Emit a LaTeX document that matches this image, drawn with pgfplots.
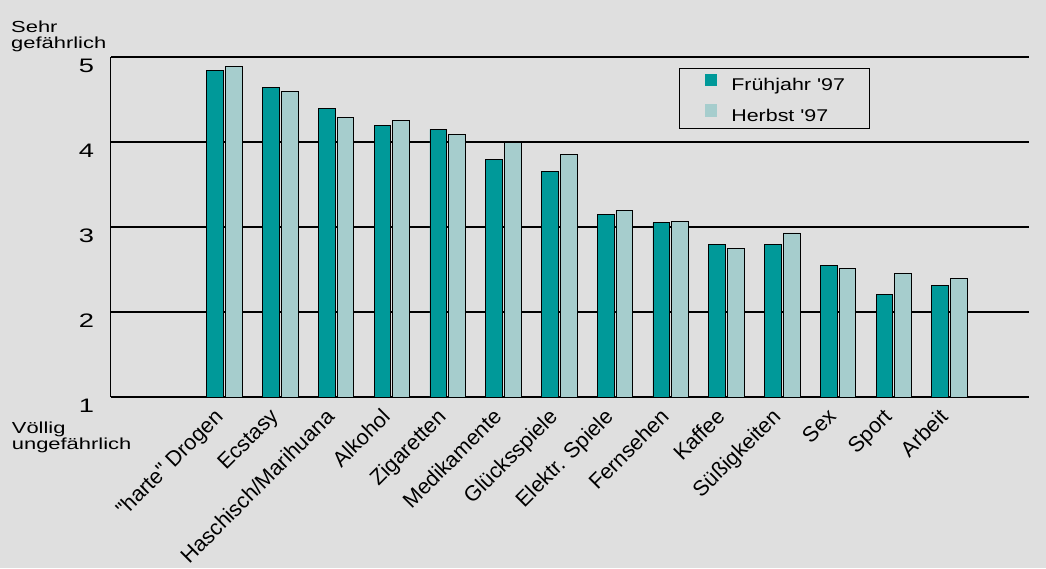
\documentclass[border=0pt]{standalone}
\usepackage{fontspec}
\setmainfont{Liberation Sans}
\usepackage{graphicx}
\usepackage{pgfplots}
\pgfplotsset{compat=1.18}
\definecolor{bg}{HTML}{DFDFDF}
\definecolor{darkteal}{HTML}{009999}
\definecolor{lightteal}{HTML}{A6CDCD}
\newcommand{\sx}[2]{\scalebox{#1}[1]{#2}}
\pgfplotstableread{
x fruehjahr herbst
0 4.84 4.89
1 4.64 4.60
2 4.40 4.29
3 4.20 4.25
4 4.15 4.09
5 3.80 4.00
6 3.65 3.85
7 3.15 3.20
8 3.05 3.07
9 2.80 2.75
10 2.80 2.93
11 2.55 2.51
12 2.21 2.45
13 2.31 2.40
}\datatable
\begin{document}
\begin{tikzpicture}
\fill[bg] (0pt,0pt) rectangle (1046pt,568pt);
\useasboundingbox (0pt,0pt) rectangle (1046pt,568pt);
\begin{axis}[
  at={(110.8pt,171pt)}, anchor=south west,
  scale only axis, width=918.2pt, height=340pt,
  xmin=-2.039, xmax=14.425, ymin=1, ymax=5,
  axis x line=bottom, axis y line=left,
  axis line style={-, black},
  x axis line style={line width=2.6pt},
  y axis line style={line width=1.3pt},
  ymajorgrids, grid style={black, line width=1.7pt},
  tick style={draw=none},
  major tick length=0pt,
  xtick={0,...,13},
  xticklabels={\textquotedbl harte\textquotedbl{} Drogen, Ecstasy, Haschisch/Marihuana, Alkohol, Zigaretten, Medikamente, Glücksspiele, Elektr. Spiele, Fernsehen, Kaffee, Süßigkeiten, Sex, Sport, Arbeit},
  xticklabel style={font=\fontsize{21.5}{23}\selectfont, xshift=-11.5pt, yshift=-10pt, rotate=45, anchor=north east, inner sep=0pt},
  ytick={1,2,3,4,5},
  yticklabels={\sx{1.4}{1},\sx{1.4}{2},\sx{1.4}{3},\sx{1.4}{4},\sx{1.4}{5}},
  yticklabel style={font=\fontsize{19.5}{20}\selectfont, anchor=north east, inner sep=0pt, xshift=-16.5pt, yshift=-1.5pt},
  legend style={at={(0.6192,0.9676)}, anchor=north west, draw=black, line width=1pt, fill=bg,
    font=\fontsize{17}{20}\selectfont, inner xsep=25pt, inner ysep=5pt, row sep=12pt, column sep=14pt,
    nodes={inner sep=0pt}},
  legend cell align=left,
]
\addplot[ybar, bar width=0.3, bar shift=-0.168, fill=darkteal, draw=black, line width=0.7pt, forget plot] table[x=x, y=fruehjahr] {\datatable};
\addplot[ybar, bar width=0.3, bar shift=0.168, fill=lightteal, draw=black, line width=0.7pt, forget plot] table[x=x, y=herbst] {\datatable};
\addlegendimage{legend image code/.code={\fill[darkteal] (0pt,0pt) rectangle (11.5pt,11.5pt);}}
\addlegendentry{\sx{1.26}{Frühjahr \textquotesingle 97}}
\addlegendimage{legend image code/.code={\fill[lightteal] (0pt,0pt) rectangle (11.5pt,11.5pt);}}
\addlegendentry{\sx{1.26}{Herbst \textquotesingle 97}\rule[-10pt]{0pt}{10pt}}
\end{axis}
\node[anchor=north west, inner sep=0pt, align=left, font=\fontsize{16}{16}\selectfont] at (11pt,547pt) {\sx{1.37}{Sehr}\\\sx{1.37}{gefährlich}};
\node[anchor=north west, inner sep=0pt, align=left, font=\fontsize{16}{16}\selectfont] at (11.7pt,146.3pt) {\sx{1.37}{Völlig}\\\sx{1.37}{ungefährlich}};
\end{tikzpicture}
\end{document}
